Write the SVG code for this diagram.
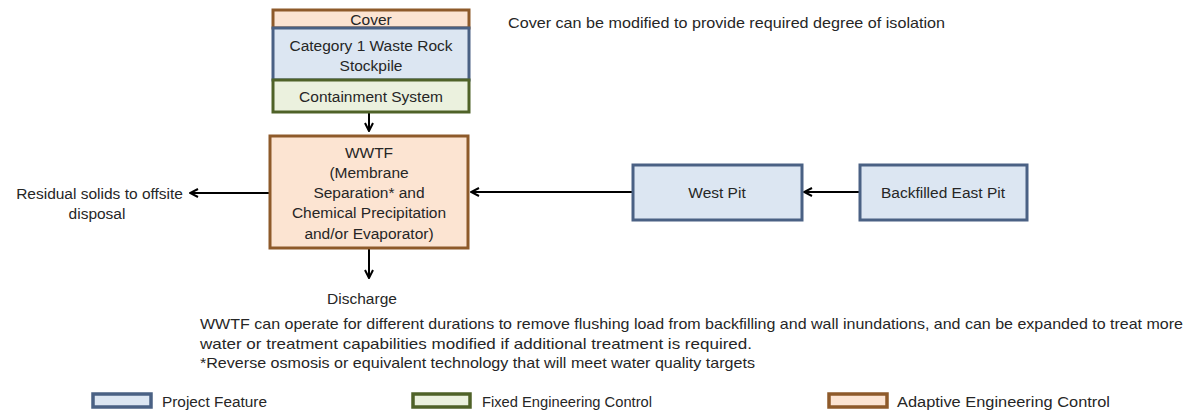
<svg xmlns="http://www.w3.org/2000/svg" width="1188" height="416" viewBox="0 0 1188 416">
<defs>
<style>
text{font-family:"Liberation Sans",Arial,sans-serif;font-size:15.5px;fill:#262626}
.c{text-anchor:middle}
.n{font-size:15px}
.pf{fill:#dce6f2;stroke:#4a6184;stroke-width:3}
.fe{fill:#ebf1de;stroke:#4f6228;stroke-width:3}
.ae{fill:#fce4d2;stroke:#8e5a2a;stroke-width:3}
.lg{stroke-width:3.5}
.ln{stroke:#000;stroke-width:2;fill:none;marker-end:url(#ah)}
</style>
<marker id="ah" viewBox="0 0 10 10" refX="9" refY="5" markerWidth="10" markerHeight="10" markerUnits="userSpaceOnUse" orient="auto">
<path d="M1,1 L9,5 L1,9" fill="none" stroke="#000" stroke-width="2"/>
</marker>
</defs>
<rect width="1188" height="416" fill="#fff"/>
<g id="connectors">
<line class="ln" x1="369" y1="113" x2="369" y2="131"/>
<line class="ln" x1="269" y1="193" x2="190" y2="193"/>
<line class="ln" x1="369" y1="249" x2="369" y2="278"/>
<line class="ln" x1="633" y1="192" x2="471" y2="192"/>
<line class="ln" x1="860" y1="192" x2="804" y2="192"/>
</g>
<g id="cover">
<rect class="ae" x="273" y="10" width="196" height="18"/>
<text class="c" x="371" y="25">Cover</text>
</g>
<g id="stockpile">
<rect class="pf" x="273" y="28" width="196" height="52"/>
<text class="c" x="371" y="51">Category 1 Waste Rock</text>
<text class="c" x="371" y="71">Stockpile</text>
</g>
<g id="containment">
<rect class="fe" x="273" y="80" width="196" height="32"/>
<text class="c" x="371" y="102">Containment System</text>
</g>
<g id="wwtf">
<rect class="ae" x="270" y="136" width="198" height="112"/>
<text class="c" x="369" y="158">WWTF</text>
<text class="c" x="369" y="178">(Membrane</text>
<text class="c" x="369" y="198">Separation* and</text>
<text class="c" x="369" y="218">Chemical Precipitation</text>
<text class="c" x="369" y="239">and/or Evaporator)</text>
</g>
<g id="westpit">
<rect class="pf" x="633" y="165" width="169" height="55"/>
<text class="c" x="717" y="198">West Pit</text>
</g>
<g id="eastpit">
<rect class="pf" x="860" y="165" width="167" height="55"/>
<text class="c" x="943" y="198">Backfilled East Pit</text>
</g>
<g id="residual">
<text x="183" y="199" text-anchor="end">Residual solids to offsite</text>
<text class="c" x="97" y="219">disposal</text>
</g>
<g id="discharge">
<text class="c" x="362" y="304">Discharge</text>
</g>
<g id="notes">
<text class="n" x="508" y="28" textLength="437" lengthAdjust="spacingAndGlyphs">Cover can be modified to provide required degree of isolation</text>
<text class="n" x="200" y="329" textLength="983" lengthAdjust="spacingAndGlyphs">WWTF can operate for different durations to remove flushing load from backfilling and wall inundations, and can be expanded to treat more</text>
<text class="n" x="200" y="349" textLength="552" lengthAdjust="spacingAndGlyphs">water or treatment capabilities modified if additional treatment is required.</text>
<text class="n" x="200" y="368" textLength="555" lengthAdjust="spacingAndGlyphs">*Reverse osmosis or equivalent technology that will meet water quality targets</text>
</g>
<g id="legend">
<rect class="pf lg" x="93" y="394" width="58" height="13"/>
<text x="162" y="407" textLength="105" lengthAdjust="spacingAndGlyphs">Project Feature</text>
<rect class="fe lg" x="413" y="394" width="57" height="13"/>
<text x="482" y="407" textLength="170" lengthAdjust="spacingAndGlyphs">Fixed Engineering Control</text>
<rect class="ae lg" x="829" y="394" width="58" height="13"/>
<text x="897" y="407" textLength="213" lengthAdjust="spacingAndGlyphs">Adaptive Engineering Control</text>
</g>
</svg>
